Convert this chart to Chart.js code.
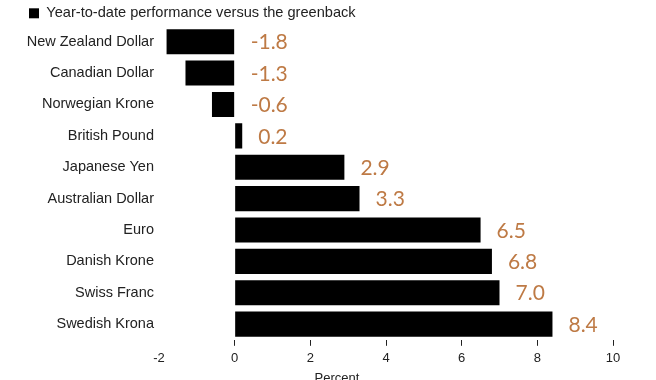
<!DOCTYPE html>
<html>
<head>
<meta charset="utf-8">
<script src="https://cdn.jsdelivr.net/npm/chart.js@4"></script>
<style>
  html, body { margin: 0; padding: 0; background: #ffffff; }
  #wrap { width: 656px; height: 380px; position: relative; }
</style>
</head>
<body>
<div id="wrap"><canvas id="c" width="656" height="380"></canvas></div>
<script>
const categories = ['New Zealand Dollar', 'Canadian Dollar', 'Norwegian Krone', 'British Pound', 'Japanese Yen', 'Australian Dollar', 'Euro', 'Danish Krone', 'Swiss Franc', 'Swedish Krona'];
const values = [-1.8, -1.3, -0.6, 0.2, 2.9, 3.3, 6.5, 6.8, 7.0, 8.4];
const xTicks = [-2, 0, 2, 4, 6, 8, 10];
const seriesName = 'Year-to-date performance versus the greenback';
const axisTitle = 'Percent';

const valueLabels = {
  id: 'valueLabels',
  afterDatasetsDraw(chart) {
    const ctx = chart.ctx;
    const xs = chart.scales.x;
    const meta = chart.getDatasetMeta(0);
    ctx.save();
    ctx.font = '21px Lato';
    ctx.fillStyle = '#BE7A45';
    ctx.textAlign = 'left';
    ctx.textBaseline = 'middle';
    meta.data.forEach((el, i) => {
      const v = values[i];
      const x = xs.getPixelForValue(Math.max(v, 0)) + 16;
      ctx.fillText(v.toFixed(1), x, el.y + 1);
    });
    // axis title, offset left of the plot centre as in the reference
    const ca = chart.chartArea;
    ctx.font = '13px "Liberation Sans"';
    ctx.fillStyle = '#222222';
    ctx.textAlign = 'center';
    ctx.textBaseline = 'middle';
    ctx.fillText(axisTitle, (ca.left + ca.right) / 2 - 49, xs.bottom - 14);
    ctx.restore();
  }
};

new Chart(document.getElementById('c'), {
  type: 'bar',
  data: {
    labels: categories,
    datasets: [{
      label: seriesName,
      data: values,
      backgroundColor: '#000000',
      borderWidth: 0,
      barPercentage: 0.8,
      categoryPercentage: 1.0
    }]
  },
  options: {
    indexAxis: 'y',
    responsive: false,
    animation: false,
    devicePixelRatio: 1,
    layout: { padding: { left: 23, right: 43, top: 0, bottom: -12 } },
    plugins: {
      tooltip: { enabled: false },
      legend: {
        display: true,
        position: 'top',
        align: 'start',
        maxHeight: 26,
        labels: {
          boxWidth: 10,
          boxHeight: 10,
          padding: 6,
          color: '#222222',
          font: { family: 'Liberation Sans', size: 14.6 }
        }
      }
    },
    scales: {
      x: {
        type: 'linear',
        min: -2,
        max: 10,
        afterBuildTicks(scale) { scale.ticks = xTicks.map(v => ({ value: v })); },
        ticks: {
          color: '#222222',
          padding: 5,
          font: { family: 'Liberation Sans', size: 13 },
          callback: v => String(v)
        },
        grid: {
          drawOnChartArea: false,
          drawTicks: true,
          tickLength: 6,
          color: c => (c.tick && c.tick.value === -2) ? 'rgba(0,0,0,0)' : '#222222'
        },
        border: { display: false },
        title: {
          display: true,
          text: axisTitle,
          color: 'rgba(0,0,0,0)',
          font: { family: 'Liberation Sans', size: 13 },
          padding: { top: 5, bottom: 0 }
        }
      },
      y: {
        afterFit(scale) { scale.width = 136; },
        ticks: {
          color: '#222222',
          padding: 5,
          font: { family: 'Liberation Sans', size: 14.5 }
        },
        grid: { display: false, drawTicks: false },
        border: { display: false }
      }
    }
  },
  plugins: [valueLabels]
});
</script>
</body>
</html>
